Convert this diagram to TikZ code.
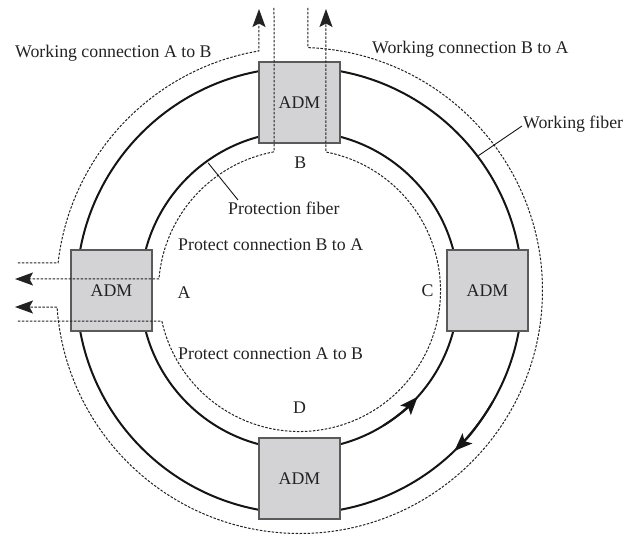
\documentclass[tikz,border=0pt]{standalone}
\usepackage{fontspec}
\setmainfont{Liberation Serif}
\usetikzlibrary{arrows.meta}
\definecolor{fibercol}{HTML}{151515}
\definecolor{dashcol}{HTML}{222222}
\definecolor{boxedge}{HTML}{5A5A5A}
\definecolor{boxfill}{HTML}{D3D3D5}
\definecolor{txt}{HTML}{222222}
\begin{document}
\begin{tikzpicture}[x=1pt,y=1pt,
  fiber/.style={line width=2pt, draw=fibercol},
  conn/.style={line width=1pt, draw=dashcol, dash pattern=on 2.5pt off 1.5pt},
  adm/.style={draw=boxedge, fill=boxfill, line width=1.2pt,
    minimum width=81pt, minimum height=81pt, inner sep=0pt, text=txt,
    font=\fontsize{17.8}{20}\selectfont},
  lbl/.style={inner sep=0pt, text=txt, font=\fontsize{17.8}{20}\selectfont},
  connhead/.style={-{Stealth[length=18pt,width=13pt,inset=3.5pt]}},
  fiberhead/.style={-{Stealth[length=18pt,width=14pt,inset=4pt]}},
  leader/.style={line width=0.9pt, draw=fibercol}]
\useasboundingbox (-299.5,-245.5) rectangle (325.5,290.5);

% ring centre
\coordinate (O) at (0,0);

% working (outer) and protection (inner) fibers
\draw[fiber] (O) circle[radius=223];
\draw[fiber] (O) circle[radius=159];
\draw[fiber,fiberhead] (-58:159) arc[start angle=-58,end angle=-42,radius=159];
\draw[fiber,fiberhead] (-30:223) arc[start angle=-30,end angle=-46,radius=223];

% add/drop multiplexers
\node[adm] (B) at (0,188) {ADM};
\node[adm] (A) at (-188,0) {ADM};
\node[adm] (C) at (188,0) {ADM};
\node[adm] (D) at (0,-188) {ADM};

% end points of the four connections
\coordinate (wabIn)  at (-281.5,27.5);
\coordinate (wabOut) at (-40.5,281.5);
\coordinate (wbaIn)  at (8.5,282.5);
\coordinate (wbaOut) at (-284.5,-16.5);
\coordinate (pbaIn)  at (-25.5,282.5);
\coordinate (pbaOut) at (-284.5,11.5);
\coordinate (pabIn)  at (-281.5,-30.5);
\coordinate (pabOut) at (26.5,281.5);

% working connection A to B (outer, via the left-top arc)
\draw[conn,connhead] (wabIn) -- (173.5:243)
  arc[start angle=173.5,end angle=99.6,radius=243] -- (wabOut);
% working connection B to A (outer, clockwise round the ring)
\draw[conn,connhead] (wbaIn) -- (88:243)
  arc[start angle=88,end angle=-176.1,radius=243] -- (wbaOut);
% protect connection B to A (inner, short way)
\draw[conn,connhead] (pbaIn) -- (100.4:141)
  arc[start angle=100.4,end angle=175.3,radius=141] -- (pbaOut);
% protect connection A to B (inner, long way)
\draw[conn,connhead] (pabIn) -- (192.5:141)
  arc[start angle=192.5,end angle=439.2,radius=141] -- (pabOut);

% labels
\node[lbl,anchor=base west] (lwab) at (-284.5,232.5) {Working connection A to B};
\node[lbl,anchor=base west] (lwba) at (72.5,237.2) {Working connection B to A};
\node[lbl,anchor=base west] (wf) at (223.5,162.2) {Working fiber};
\node[lbl,anchor=base west] (pf) at (-71.5,75.5) {Protection fiber};
\node[lbl,anchor=base west] (lpba) at (-121.5,39.5) {Protect connection B to A};
\node[lbl,anchor=base west] (lpab) at (-121.5,-68.8) {Protect connection A to B};
\node[lbl,anchor=base] (la) at (-115.5,-7.8) {A};
\node[lbl,anchor=base] (lb) at (0.8,122.2) {B};
\node[lbl,anchor=base] (lc) at (128,-6.2) {C};
\node[lbl,anchor=base] (ld) at (0,-122.8) {D};

% leader lines
\draw[leader] (37:224) -- ([shift={(-1,2.3)}]wf.base west);
\draw[leader] (125.6:157) -- ([shift={(10,15)}]pf.base west);
\end{tikzpicture}
\end{document}
